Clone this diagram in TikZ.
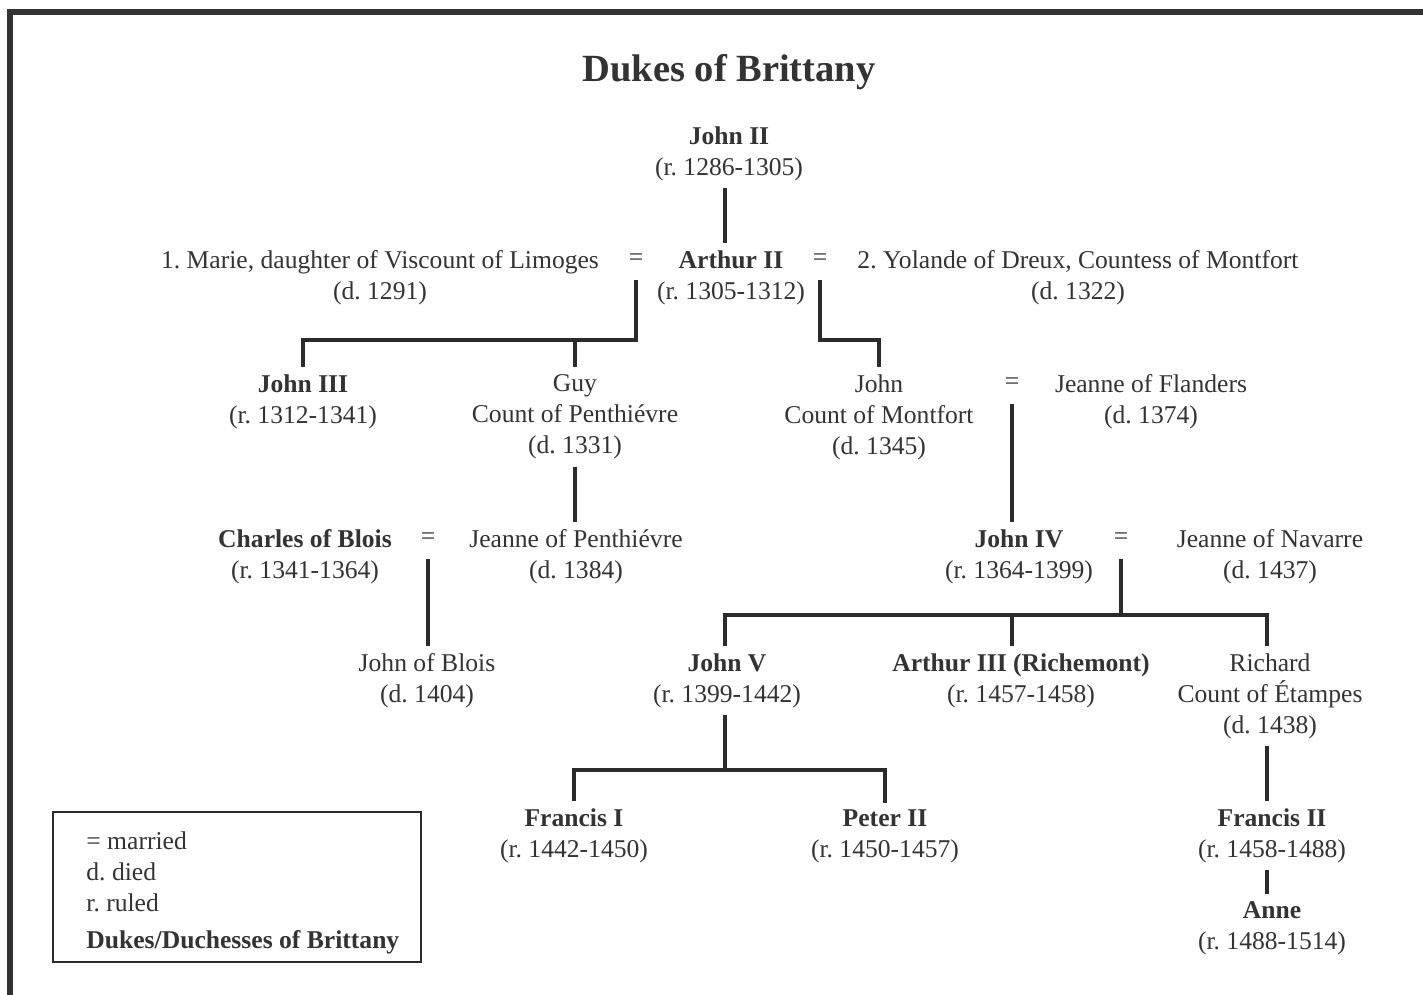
\documentclass[tikz,border=0pt]{standalone}
\usepackage{fontspec}
\setmainfont{Liberation Serif}
\frenchspacing
\definecolor{ink}{HTML}{333333}
\definecolor{lineC}{HTML}{2B2B2B}
\definecolor{frameC}{HTML}{333333}
\begin{document}
\frenchspacing
\begin{tikzpicture}[x=0.5pt,y=-0.5pt,
  every node/.style={text=ink},
  p/.style={align=center,font=\fontsize{12.8}{15.5}\selectfont,inner sep=3.5pt},
  eq/.style={font=\fontsize{12.8}{15.5}\selectfont,inner sep=0pt,minimum height=20pt},
  ln/.style={draw=lineC,line width=2pt},
  leg/.style={anchor=west,inner sep=0pt,font=\fontsize{12.8}{15.5}\selectfont}]
\useasboundingbox (0,0) rectangle (1423,995);
\fill[white] (0,0) rectangle (1423,995);
\draw[line width=3pt,draw=frameC] (10,995) -- (10,12) -- (1423,12);

% title
\node[font=\fontsize{19.25}{22}\selectfont\bfseries,inner sep=0pt] (title) at (729,72) {Dukes of Brittany};

% generation 1
\node[p] (john2) at (729,153.5) {\textbf{John II}\\(r. 1286-1305)};
\node[p] (arthur2) at (731,277.5) {\textbf{Arthur II}\\(r. 1305-1312)};
\node[p] (marie) at (380,277.5) {1. Marie, daughter of Viscount of Limoges\\(d. 1291)};
\node[p] (yolande) at (1078,277.5) {2. Yolande of Dreux, Countess of Montfort\\(d. 1322)};
\node[eq] (eqA) at (636,260) {=};
\node[eq] (eqB) at (820,260) {=};

% generation 2
\node[p] (john3) at (303,401.5) {\textbf{John III}\\(r. 1312-1341)};
\node[p] (guy) at (575,417) {Guy\\Count of Penthiévre\\(d. 1331)};
\node[p] (johnM) at (879,417) {John\\Count of Montfort\\(d. 1345)};
\node[eq] (eqC) at (1012,384) {=};
\node[p] (jflanders) at (1151,401.5) {Jeanne of Flanders\\(d. 1374)};

% generation 3
\node[p] (charles) at (305,556.5) {\textbf{Charles of Blois}\\(r. 1341-1364)};
\node[eq] (eqD) at (428,539) {=};
\node[p] (jpenth) at (576,556.5) {Jeanne of Penthiévre\\(d. 1384)};
\node[p] (john4) at (1019,556.5) {\textbf{John IV}\\(r. 1364-1399)};
\node[eq] (eqE) at (1121,539) {=};
\node[p] (jnavarre) at (1270,556.5) {Jeanne of Navarre\\(d. 1437)};

% generation 4
\node[p] (jblois) at (427,680.5) {John of Blois\\(d. 1404)};
\node[p] (john5) at (727,680.5) {\textbf{John V}\\(r. 1399-1442)};
\node[p] (arthur3) at (1021,680.5) {\textbf{Arthur III (Richemont)}\\(r. 1457-1458)};
\node[p] (richard) at (1270,696) {Richard\\Count of Étampes\\(d. 1438)};

% generation 5
\node[p] (francis1) at (574,835.5) {\textbf{Francis I}\\(r. 1442-1450)};
\node[p] (peter2) at (885,836.5) {\textbf{Peter II}\\(r. 1450-1457)};
\node[p] (francis2) at (1272,835.5) {\textbf{Francis II}\\(r. 1458-1488)};
\node[p] (anne) at (1272,928.5) {\textbf{Anne}\\(r. 1488-1514)};

% bars
\coordinate (barA) at (0,340);
\coordinate (barE) at (0,615);
\coordinate (barF) at (0,770);

% connectors
\draw[ln] ([xshift=-2pt]john2.south) -- ([xshift=-2pt]john2.south |- arthur2.north);
\draw[ln] (eqA.south) |- (john3.north |- barA) -- (john3.north);
\draw[ln] (guy.north |- barA) -- (guy.north);
\draw[ln] (eqB.south) |- (johnM.north |- barA) -- (johnM.north);
\draw[ln] (eqC.south) -- (eqC.south |- john4.north);
\draw[ln] (guy.south) -- (guy.south |- jpenth.north);
\draw[ln] (eqD.south) -- (eqD.south |- jblois.north);
\draw[ln] ([xshift=-1pt]john5.north) |- ([xshift=-1.5pt]richard.north |- barE) -- ([xshift=-1.5pt]richard.north);
\draw[ln] (eqE.south) -- (eqE.south |- barE);
\draw[ln] ([xshift=-4.5pt]arthur3.north |- barE) -- ([xshift=-4.5pt]arthur3.north);
\draw[ln] ([xshift=-1pt]john5.south) -- ([xshift=-1pt]john5.south |- barF);
\draw[ln] (francis1.north) |- (peter2.north |- barF) -- (peter2.north);
\draw[ln] ([xshift=-1.5pt]richard.south) -- ([xshift=-1.5pt]richard.south |- francis2.north);
\draw[ln] ([xshift=-2.5pt]francis2.south) -- ([xshift=-2.5pt]francis2.south |- anne.north);

% legend
\draw[draw=lineC,line width=1pt] (53,812) rectangle (421,962);
\node[leg] (l1) at (86,841) {= married};
\node[leg] (l2) at (86,872) {d. died};
\node[leg] (l3) at (86,903) {r. ruled};
\node[leg,font=\fontsize{12.8}{15.5}\selectfont\bfseries] (l4) at (86,942) {Dukes/Duchesses of Brittany};
\end{tikzpicture}
\end{document}
